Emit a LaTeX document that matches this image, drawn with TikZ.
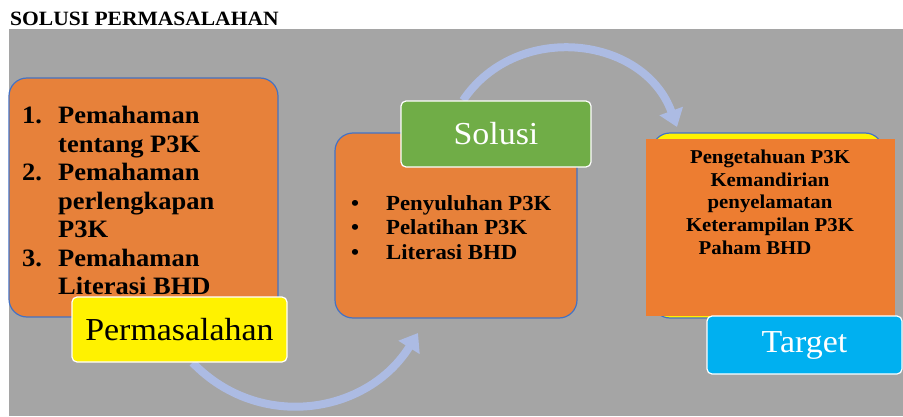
\documentclass[tikz,border=0pt]{standalone}
\usepackage{fontspec}
\setmainfont{Liberation Serif}[FakeStretch=1.06]
\usetikzlibrary{arrows.meta,backgrounds}

\definecolor{bggray}{HTML}{A5A5A5}
\definecolor{boxorange}{HTML}{E7813A}
\definecolor{rectorange}{HTML}{ED7D31}
\definecolor{boxblue}{HTML}{4472C4}
\definecolor{solgreen}{HTML}{70AD47}
\definecolor{tgtcyan}{HTML}{00B0F0}
\definecolor{arrowblue}{HTML}{ACBBE3}

\newcommand{\numlabel}[1]{\makebox[36pt][l]{#1}}
\newcommand{\dotlabel}{\makebox[35pt][l]{\textbullet}}

\begin{document}
\begin{tikzpicture}[x=1pt,y=1pt,
  bigbox/.style={draw=boxblue, line width=1.2pt, fill=boxorange, rounded corners=18pt, inner sep=0pt},
  tagbox/.style={draw=white, line width=1.2pt, rounded corners=5pt, inner sep=0pt, font=\fontsize{32}{36}\selectfont},
  flowarrow/.style={line width=8pt, arrowblue, -{Triangle[width=24pt,length=17pt]}}]

\useasboundingbox (0,0) rectangle (903,416);

\node[anchor=base west, inner sep=0pt, font=\fontsize{20.3}{24}\bfseries\selectfont] (title) at (10,390) {SOLUSI PERMASALAHAN};

% Permasalahan
\node[bigbox, minimum width=269pt, minimum height=239pt] (probbox) at (143.5,218.5) {};
\node[anchor=north west, inner sep=0pt, align=left, font=\fontsize{25}{28.5}\bfseries\selectfont] (problist) at (22,310)
  {\numlabel{1.}Pemahaman\\\numlabel{}tentang P3K\\\numlabel{2.}Pemahaman\\\numlabel{}perlengkapan\\\numlabel{}P3K\\\numlabel{3.}Pemahaman\\\numlabel{}Literasi BHD};
\node[tagbox, fill=yellow, minimum width=215pt, minimum height=65pt] (perm) at (179.5,86.5) {Permasalahan};

% Solusi
\node[bigbox, minimum width=242pt, minimum height=185pt] (solbox) at (456,190.5) {};
\node[anchor=north west, inner sep=0pt, align=left, font=\fontsize{21.5}{24.5}\bfseries\selectfont] (sollist) at (351,221)
  {\dotlabel Penyuluhan P3K\\\dotlabel Pelatihan P3K\\\dotlabel Literasi BHD};
\node[tagbox, fill=solgreen, text=white, minimum width=190pt, minimum height=66pt] (sol) at (496,282) {Solusi};

% Target
\node[bigbox, fill=yellow, minimum width=231pt, minimum height=185pt] (tgtbox) at (767.5,190.5) {};
\node[fill=rectorange, inner sep=0pt, minimum width=249pt, minimum height=177pt] (tgtrect) at (770.5,188.5) {};
\node[anchor=north, inner sep=0pt, align=center, font=\fontsize{19.6}{22.7}\bfseries\selectfont] (tgtlist) at (770,266.5)
  {Pengetahuan P3K\\Kemandirian\\penyelamatan\\Keterampilan P3K\\Paham BHD\hspace*{30pt}};
\node[tagbox, fill=tgtcyan, text=white, minimum width=195pt, minimum height=58pt] (tgt) at (804.5,71) {Target};

% arrows
\coordinate (soltip) at (418,83);
\coordinate (tgttip) at (677,289);
\begin{pgfonlayer}{background}
\fill[bggray] (9,0) rectangle (903,387);
\draw[flowarrow] ([xshift=13pt]perm.south) to[out=-46,in=-122,looseness=1.08] (soltip);
\draw[flowarrow] ([xshift=-33pt]sol.north) to[out=56,in=110,looseness=1.15] (tgttip);
\end{pgfonlayer}
\end{tikzpicture}
\end{document}
